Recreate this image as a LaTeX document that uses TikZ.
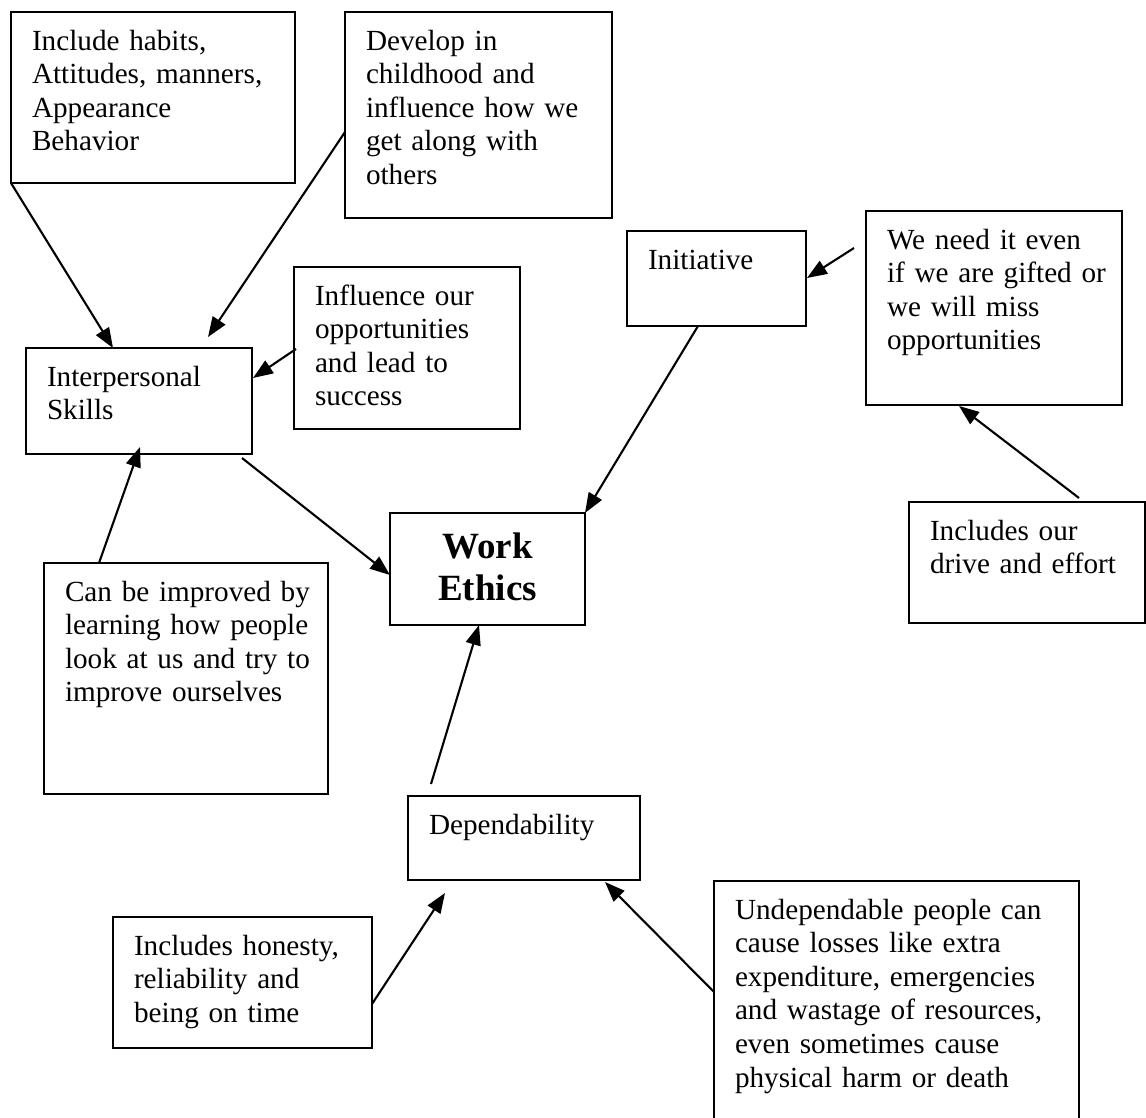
\documentclass[tikz,border=0pt]{standalone}
\usepackage{fontspec}
\setmainfont{Liberation Serif}
\usetikzlibrary{arrows.meta,calc}
\tikzset{
  boxsty/.style={draw=black, line width=1.6pt, inner sep=0pt, outer sep=0pt},
  txtsty/.style={inner sep=0pt, outer sep=0pt, align=left, font=\fontsize{29.2}{33.6}\selectfont},
  titlesty/.style={inner sep=0pt, outer sep=0pt, align=center, font=\fontsize{37}{42.8}\selectfont\bfseries},
  arr/.style={line width=2.1pt, -{Triangle[length=20pt,width=15pt]}},
}
% name, x1, y1, x2, y2, text
\newcommand\mkbox[6]{%
  \node[boxsty, minimum width={#4-#2}, minimum height={#5-#3}, anchor=north west] (#1) at (#2,#3) {};
  \node[txtsty, text width={#4-#2-22}, anchor=base west] (#1-t) at ($(#1.north west)+(21,38)$) {#6};
}
\begin{document}
\begin{tikzpicture}[x=1pt,y=-1pt]
\useasboundingbox (0,0) rectangle (1146,1117);
\fill[white] (0,0) rectangle (1146,1117);
\clip (0,0) rectangle (1146,1117);

\mkbox{b1}{11}{12}{295}{183}{Include habits,\\Attitudes, manners,\\Appearance\\Behavior}
\mkbox{b2}{345}{12}{612}{218}{Develop in\\childhood and\\influence how we\\get along with\\others}
\mkbox{ini}{627}{231}{806}{326}{Initiative}
\mkbox{need}{866}{211}{1122}{405}{We need it even\\if we are gifted or\\we will miss\\opportunities}
\mkbox{infl}{294}{267}{520}{429}{Influence our\\opportunities\\and lead to\\success}
\mkbox{ip}{26}{348}{252}{454}{Interpersonal\\Skills}
\mkbox{drive}{909}{502}{1145}{623}{Includes our\\drive and effort}
\mkbox{can}{44}{563}{328}{794}{Can be improved by\\learning how people\\look at us and try to\\improve ourselves}
\mkbox{dep}{408}{796}{640}{880}{Dependability}
\mkbox{hon}{113}{917}{372}{1048}{Includes honesty,\\reliability and\\being on time}
\mkbox{und}{714}{881}{1079}{1140}{Undependable people can\\cause losses like extra\\expenditure, emergencies\\and wastage of resources,\\even sometimes cause\\physical harm or death}

\node[boxsty, minimum width=195, minimum height=112, anchor=north west] (we) at (390,513) {};
\node[titlesty, text width=190, anchor=base] (we-t) at ($(we.north)+(0,45)$) {Work\\Ethics};

\draw[arr] (b1.south west) -- ($(ip.north west)+(87,0)$);
\draw[arr] ($(b2.north west)+(0,120)$) -- ($(ip.north west)+(182,-11)$);
\draw[arr] ($(infl.north west)+(2,82)$) -- ($(ip.north east)+(1,30)$);
\draw[arr] ($(ip.south east)+(-10,4)$) -- ($(we.north west)+(0,62)$);
\draw[arr] ($(can.north west)+(55,0)$) -- ($(ip.south west)+(114,-7)$);
\draw[arr] ($(ini.south west)+(71,0)$) -- (we.north east);
\draw[arr] ($(need.north west)+(-12,37)$) -- ($(ini.north east)+(1,47)$);
\draw[arr] ($(drive.north west)+(170,-4)$) -- ($(need.south west)+(93,1)$);
\draw[arr] ($(dep.north west)+(23,-12)$) -- ($(we.south west)+(89,0)$);
\draw[arr] ($(hon.north east)+(0,87)$) -- ($(dep.south west)+(37,13)$);
\draw[arr] ($(und.north west)+(0,111)$) -- ($(dep.south east)+(-35,2)$);
\end{tikzpicture}
\end{document}
